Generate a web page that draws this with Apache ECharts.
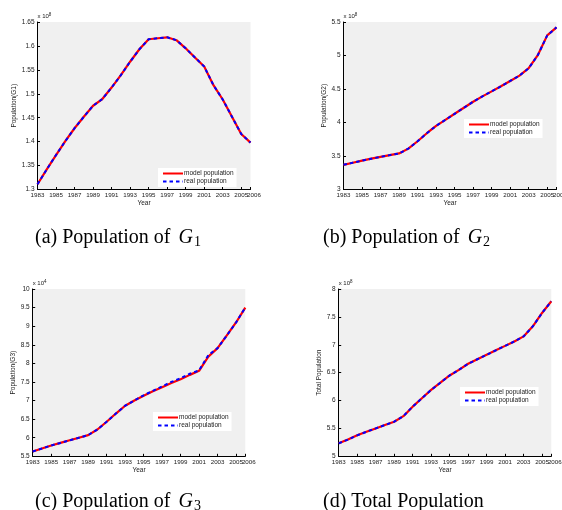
<!DOCTYPE html>
<html>
<head>
<meta charset="utf-8">
<script src="https://cdn.jsdelivr.net/npm/echarts@6/dist/echarts.min.js"></script>
<style>
  html, body { margin: 0; padding: 0; background: #fff; }
  #echarts { width: 562px; height: 510px; }
</style>
</head>
<body>
<div id="echarts"></div>
<script>
const years = ['1983', '1984', '1985', '1986', '1987', '1988', '1989', '1990', '1991', '1992', '1993', '1994',
  '1995', '1996', '1997', '1998', '1999', '2000', '2001', '2002', '2003', '2004', '2005', '2006'];

// G1, x 10^8
const g1Model = [1.311, 1.342, 1.372, 1.401, 1.428, 1.452, 1.475, 1.489, 1.513, 1.539, 1.567, 1.593,
  1.614, 1.616, 1.618, 1.612, 1.595, 1.576, 1.557, 1.518, 1.488, 1.452, 1.416, 1.398];
const g1Real = [1.311, 1.342, 1.372, 1.401, 1.428, 1.452, 1.475, 1.489, 1.513, 1.539, 1.567, 1.593,
  1.614, 1.616, 1.618, 1.612, 1.595, 1.576, 1.557, 1.518, 1.488, 1.452, 1.416, 1.398];
// G2, x 10^8
const g2Model = [3.368, 3.40, 3.43, 3.46, 3.488, 3.513, 3.538, 3.61, 3.72, 3.84, 3.95, 4.04,
  4.13, 4.22, 4.31, 4.39, 4.465, 4.54, 4.62, 4.70, 4.81, 5.01, 5.30, 5.42];
const g2Real = [3.368, 3.40, 3.43, 3.46, 3.488, 3.513, 3.538, 3.61, 3.72, 3.84, 3.95, 4.04,
  4.13, 4.22, 4.31, 4.39, 4.465, 4.54, 4.62, 4.70, 4.81, 5.01, 5.30, 5.42];
// G3, x 10^4
const g3Model = [5.63, 5.71, 5.79, 5.86, 5.93, 6.0, 6.07, 6.22, 6.43, 6.65, 6.86, 7.0,
  7.13, 7.25, 7.36, 7.47, 7.57, 7.69, 7.80, 8.18, 8.41, 8.75, 9.1, 9.5];
const g3Real = [5.63, 5.71, 5.79, 5.86, 5.93, 6.0, 6.07, 6.22, 6.43, 6.65, 6.86, 7.0,
  7.14, 7.26, 7.38, 7.50, 7.60, 7.72, 7.81, 8.22, 8.41, 8.75, 9.1, 9.5];
// total, x 10^8
const totalModel = [5.233, 5.30, 5.376, 5.44, 5.50, 5.56, 5.62, 5.72, 5.89, 6.04, 6.19, 6.32,
  6.45, 6.55, 6.66, 6.74, 6.82, 6.90, 6.98, 7.06, 7.15, 7.33, 7.57, 7.78];
const totalReal = [5.233, 5.30, 5.376, 5.44, 5.50, 5.56, 5.62, 5.72, 5.89, 6.04, 6.19, 6.32,
  6.45, 6.55, 6.66, 6.74, 6.82, 6.90, 6.98, 7.06, 7.15, 7.33, 7.57, 7.78];

const panels = [
  { grid: { left: 37.5, top: 22, width: 213, height: 167.5 }, yName: 'Population(G1)', nameGap: 19,
    min: 1.3, max: 1.65, interval: 0.05, exp: '8', model: g1Model, real: g1Real, legend: [158, 168],
    caption: ['(a) Population of ', 'G', '1'], capPos: [35, 239] },
  { grid: { left: 343.5, top: 22, width: 213, height: 167.5 }, yName: 'Population(G2)', nameGap: 12,
    min: 3, max: 5.5, interval: 0.5, exp: '8', model: g2Model, real: g2Real, legend: [464, 119],
    caption: ['(b) Population of ', 'G', '2'], capPos: [323, 239] },
  { grid: { left: 32.7, top: 289, width: 212.6, height: 167.3 }, yName: 'Population(G3)', nameGap: 14,
    min: 5.5, max: 10, interval: 0.5, exp: '4', model: g3Model, real: g3Real, legend: [153, 412],
    caption: ['(c) Population of ', 'G', '3'], capPos: [35, 503] },
  { grid: { left: 338.7, top: 289, width: 212.6, height: 167.3 }, yName: 'Total Population', nameGap: 14,
    min: 5, max: 8, interval: 0.5, exp: '8', model: totalModel, real: totalReal, legend: [460, 387],
    caption: ['(d) Total Population'], capPos: [323, 503] },
];

const lastIdx = years.length - 1;
const oddYear = (i) => i % 2 === 0;
const smallFont = 'Liberation Sans';
const ink = '#1a1a1a';
const xTickFont = 6.2;
const yTickFont = 6.5;

let myChart = echarts.init(document.getElementById('echarts'));

const grid = [], xAxis = [], yAxis = [], series = [], legend = [], graphic = [];
panels.forEach((p, k) => {
  grid.push(Object.assign({ show: true, backgroundColor: '#f0f0f0', borderWidth: 0, outerBoundsMode: 'none' }, p.grid));
  xAxis.push({
    gridIndex: k,
    type: 'category',
    position: 'bottom',
    data: years,
    boundaryGap: false,
    name: 'Year',
    nameLocation: 'middle',
    nameGap: 10,
    nameTextStyle: { fontSize: 6.5, color: ink, fontFamily: smallFont },
    axisLine: { lineStyle: { color: '#000', width: 1 } },
    axisTick: { inside: true, length: 2.5, interval: (i) => oddYear(i) || i === lastIdx, lineStyle: { color: '#000' } },
    axisLabel: { interval: (i) => oddYear(i), showMinLabel: true, showMaxLabel: true,
      fontSize: xTickFont, margin: 3, color: ink, fontFamily: smallFont },
    splitLine: { show: false },
  });
  yAxis.push({
    gridIndex: k,
    type: 'value',
    min: p.min,
    max: p.max,
    interval: p.interval,
    name: p.yName,
    nameLocation: 'middle',
    nameGap: p.nameGap,
    nameRotate: 90,
    nameTextStyle: { fontSize: 6.5, color: ink, fontFamily: smallFont },
    axisLine: { show: true, lineStyle: { color: '#000', width: 1 } },
    axisTick: { show: true, inside: true, length: 2.5, lineStyle: { color: '#000' } },
    axisLabel: { fontSize: yTickFont, margin: 3, color: ink, fontFamily: smallFont,
      formatter: (v) => String(+v.toFixed(2)) },
    splitLine: { show: false },
  });
  series.push({
    name: 'model population',
    type: 'line',
    xAxisIndex: k,
    yAxisIndex: k,
    data: p.model,
    symbol: 'none',
    lineStyle: { color: '#ff0000', width: 2.2 },
    itemStyle: { color: '#ff0000' },
    z: 2,
  });
  series.push({
    name: 'real population',
    type: 'line',
    xAxisIndex: k,
    yAxisIndex: k,
    data: p.real,
    symbol: 'none',
    lineStyle: { color: '#0000ff', width: 2, type: [3.5, 3] },
    itemStyle: { color: '#0000ff' },
    z: 3,
  });
  legend.push({
    left: p.legend[0],
    top: p.legend[1],
    orient: 'vertical',
    backgroundColor: '#fff',
    padding: [2, 3, 2, 4],
    itemGap: 1,
    itemWidth: 20,
    itemHeight: 7,
    selectedMode: false,
    itemStyle: { opacity: 0 },
    data: ['model population', 'real population'],
    textStyle: { fontSize: 6.5, color: ink, fontFamily: smallFont, padding: [0, 0, 0, -4] },
  });
  // the "x 10^n" multiplier over the y axis
  graphic.push({
    type: 'text',
    left: p.grid.left,
    top: p.grid.top - 10,
    style: {
      text: 'x 10{sup|' + p.exp + '}',
      font: '6px ' + smallFont,
      fill: ink,
      rich: { sup: { fontSize: 4.5, fill: ink, verticalAlign: 'top', padding: [0, 0, 3, 0] } },
    },
  });
  // caption below the panel
  const cap = p.caption.length === 3
    ? p.caption[0] + '{it|' + p.caption[1] + '}{sub|' + p.caption[2] + '}'
    : p.caption[0];
  graphic.push({
    type: 'text',
    left: p.capPos[0],
    top: p.capPos[1] - 11,
    style: {
      text: cap,
      font: '20px "Liberation Serif"',
      fill: '#000',
      rich: {
        it: { fontSize: 20, fontStyle: 'italic', fontFamily: 'Liberation Serif', fill: '#000', padding: [0, 0, 0, 3] },
        sub: { fontSize: 14, fontFamily: 'Liberation Serif', fill: '#000', padding: [9, 0, 0, 1] },
      },
    },
  });
});

// second bottom axis per panel carrying only the last year's label (it sits very close to 2005)
panels.forEach((p, k) => {
  xAxis.push({
    gridIndex: k,
    type: 'category',
    position: 'bottom',
    data: years,
    boundaryGap: false,
    axisLine: { show: false },
    axisTick: { show: false },
    axisLabel: { interval: (i) => i === lastIdx, showMinLabel: false, showMaxLabel: true,
      fontSize: xTickFont, margin: 3, color: ink, fontFamily: smallFont, padding: [0, 0, 0, 7] },
    splitLine: { show: false },
  });
});

let option = {
  animation: false,
  backgroundColor: '#fff',
  grid,
  xAxis,
  yAxis,
  legend,
  series,
  graphic,
};
myChart.setOption(option);
</script>
</body>
</html>
